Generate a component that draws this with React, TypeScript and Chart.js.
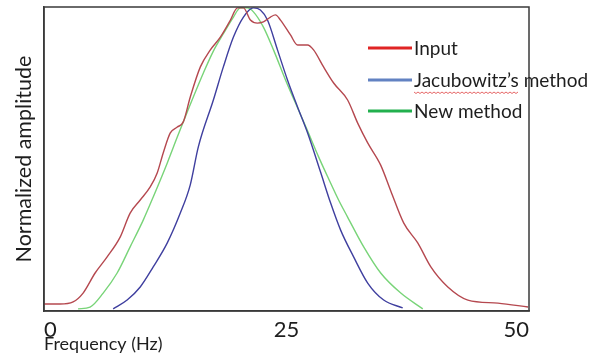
import React, { useEffect, useRef } from "react";
import { Chart, registerables } from "chart.js";

Chart.register(...registerables);

const inputX = [0, 1.65, 3.0, 4.03, 5.27, 6.51, 7.85, 8.88, 9.92, 10.95, 11.67, 12.29, 13.02, 13.74, 14.36, 15.08, 16.12, 17.15, 18.18, 19.22, 19.94, 20.56, 21.28, 22.0, 22.62, 23.35, 23.86, 24.38, 25.41, 26.14, 27.17, 27.79, 28.82, 29.86, 31.3, 32.34, 33.37, 34.71, 35.75, 37.09, 38.53, 39.88, 41.63, 43.7, 46.8, 49.9];
const inputY = [0.023, 0.023, 0.03, 0.059, 0.125, 0.178, 0.243, 0.322, 0.365, 0.408, 0.454, 0.52, 0.586, 0.605, 0.622, 0.704, 0.803, 0.859, 0.901, 0.957, 0.997, 0.997, 0.957, 0.947, 0.951, 0.967, 0.974, 0.957, 0.908, 0.875, 0.875, 0.859, 0.803, 0.75, 0.694, 0.618, 0.553, 0.48, 0.395, 0.289, 0.224, 0.145, 0.079, 0.036, 0.026, 0.013];

const jacX = [7.13, 8.57, 9.92, 11.26, 12.71, 14.05, 15.08, 15.91, 17.46, 18.49, 19.53, 20.56, 21.59, 22.31, 23.04, 24.07, 25.1, 26.14, 27.17, 28.51, 29.55, 30.58, 31.92, 33.37, 35.02, 36.98];
const jacY = [0.007, 0.036, 0.079, 0.145, 0.224, 0.322, 0.415, 0.54, 0.694, 0.803, 0.901, 0.967, 0.997, 0.99, 0.957, 0.859, 0.76, 0.671, 0.586, 0.457, 0.355, 0.266, 0.178, 0.092, 0.036, 0.01];

const newX = [3.51, 4.75, 6.1, 7.54, 8.88, 10.23, 11.26, 12.71, 13.74, 14.77, 16.43, 17.46, 18.49, 19.53, 20.25, 20.97, 21.59, 22.62, 23.66, 24.9, 26.24, 27.07, 28.31, 29.34, 30.37, 31.3, 32.96, 34.71, 36.78, 39.05];
const newY = [0.007, 0.013, 0.059, 0.125, 0.211, 0.299, 0.375, 0.487, 0.572, 0.655, 0.783, 0.855, 0.912, 0.967, 0.997, 0.997, 0.984, 0.934, 0.859, 0.76, 0.661, 0.6, 0.507, 0.435, 0.365, 0.309, 0.211, 0.125, 0.059, 0.007];

const xTicks = [0, 25, 50];
const seriesNames = ["Input", "Jacubowitz\u2019s method", "New method"];
const curveColors = ["#b5484f", "#3f3f9f", "#78d478"];
const legendColors = ["#e02424", "#6282c2", "#22b04e"];

const FONT = "Lato, 'Open Sans', sans-serif";

const pts = (xs: number[], ys: number[]) => xs.map((x, i) => ({ x, y: ys[i] }));

const framePlugin = {
  id: "frame",
  afterDraw(chart: any) {
    const { ctx, chartArea } = chart;
    ctx.save();
    ctx.strokeStyle = "#3a3a3a";
    ctx.lineWidth = 1.5;
    ctx.strokeRect(chartArea.left, chartArea.top, chartArea.right - chartArea.left, chartArea.bottom - chartArea.top);
    ctx.restore();
  },
};

const legendPlugin = {
  id: "insideLegend",
  afterDraw(chart: any) {
    const { ctx } = chart;
    ctx.save();
    const rows = [48, 80, 111];
    ctx.font = `19px ${FONT}`;
    ctx.textBaseline = "middle";
    ctx.textAlign = "left";
    seriesNames.forEach((name, i) => {
      ctx.strokeStyle = legendColors[i];
      ctx.lineWidth = 3;
      ctx.beginPath();
      ctx.moveTo(368, rows[i]);
      ctx.lineTo(412, rows[i]);
      ctx.stroke();
      ctx.fillStyle = "#1e1e1e";
      ctx.fillText(name, 414, rows[i] + 1);
    });
    // spell-check squiggle under the first word of the second entry
    const w = ctx.measureText(seriesNames[1].split(" ")[0]).width;
    ctx.strokeStyle = "#e04040";
    ctx.lineWidth = 0.8;
    ctx.beginPath();
    for (let x = 0; x <= w; x += 2) {
      const y = rows[1] + 12 + (Math.round(x / 2) % 2 === 0 ? 0 : 1.5);
      if (x === 0) ctx.moveTo(414 + x, y);
      else ctx.lineTo(414 + x, y);
    }
    ctx.stroke();
    ctx.restore();
  },
};

export default function App() {
  const ref = useRef<HTMLCanvasElement | null>(null);
  useEffect(() => {
    if (!ref.current) return;
    const chart = new Chart(ref.current, {
      type: "line",
      data: {
        datasets: [
          { label: seriesNames[0], data: pts(inputX, inputY), borderColor: curveColors[0] },
          { label: seriesNames[1], data: pts(jacX, jacY), borderColor: curveColors[1] },
          { label: seriesNames[2], data: pts(newX, newY), borderColor: curveColors[2] },
        ].map((d) => ({ ...d, borderWidth: 1.4, pointRadius: 0, cubicInterpolationMode: "monotone", fill: false })),
      },
      options: {
        animation: false,
        responsive: false,
        maintainAspectRatio: false,
        layout: { padding: { left: 0, right: 62, top: 7, bottom: 0 } },
        plugins: { legend: { display: false }, tooltip: { enabled: false } },
        scales: {
          x: {
            type: "linear",
            min: 0,
            max: 50,
            afterFit: (s: any) => { s.height = 45; },
            afterBuildTicks: (s: any) => { s.ticks = xTicks.map((v) => ({ value: v })); },
            grid: { display: false, drawTicks: false },
            border: { display: true, color: "#3a3a3a", width: 1.5 },
            ticks: { align: "inner", padding: 6, color: "#1e1e1e", font: { family: FONT, size: 22 } },
            title: { display: true, text: "Frequency (Hz)", align: "start", color: "#1e1e1e", padding: { top: 0, bottom: 1 }, font: { family: FONT, size: 18 } },
          },
          y: {
            type: "linear",
            min: 0,
            max: 1,
            afterFit: (s: any) => { s.width = 44; },
            grid: { display: false, drawTicks: false },
            border: { display: true, color: "#3a3a3a", width: 1.5 },
            ticks: { display: false },
            title: { display: true, text: "Normalized amplitude", color: "#1e1e1e", padding: { top: 11, bottom: 0 }, font: { family: FONT, size: 21.5 } },
          },
        },
      },
      plugins: [framePlugin, legendPlugin],
    } as any);
    return () => chart.destroy();
  }, []);
  return (
    <div style={{ position: "fixed", left: 0, top: 0, width: 591, height: 356, background: "#fff" }}>
      <canvas ref={ref} width={591} height={356} />
    </div>
  );
}
